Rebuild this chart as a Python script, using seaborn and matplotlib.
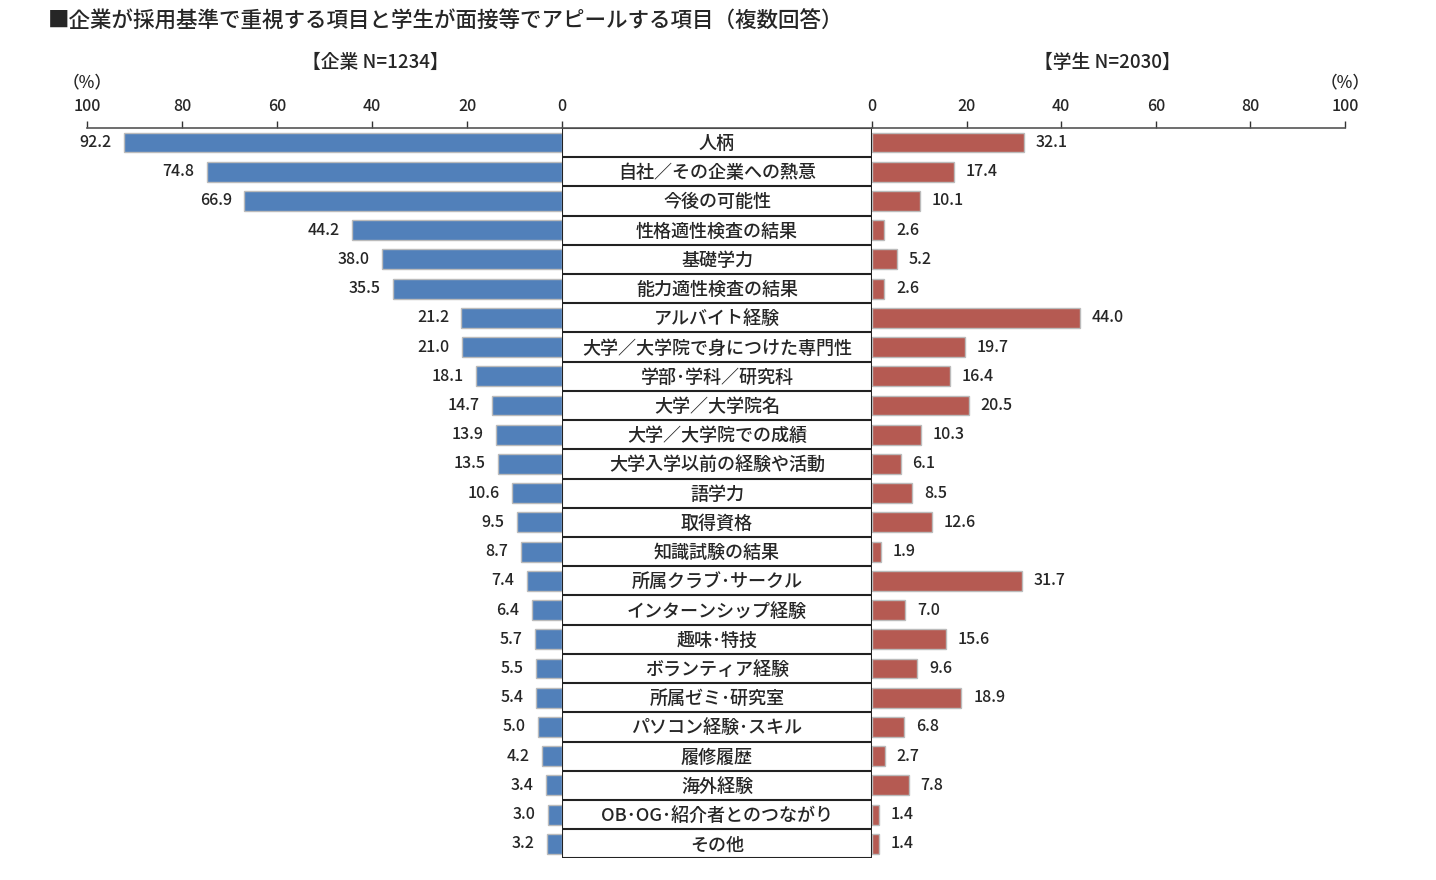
import matplotlib
matplotlib.use("Agg")
import matplotlib.pyplot as plt
import seaborn as sns
import pandas as pd

# %%
# Data
items = ['人柄', '自社／その企業への熱意', '今後の可能性', '性格適性検査の結果', '基礎学力',
         '能力適性検査の結果', 'アルバイト経験', '大学／大学院で身につけた専門性',
         '学部･学科／研究科', '大学／大学院名', '大学／大学院での成績',
         '大学入学以前の経験や活動', '語学力', '取得資格', '知識試験の結果',
         '所属クラブ･サークル', 'インターンシップ経験', '趣味･特技', 'ボランティア経験',
         '所属ゼミ･研究室', 'パソコン経験･スキル', '履修履歴', '海外経験',
         'OB･OG･紹介者とのつながり', 'その他']
company = [92.2, 74.8, 66.9, 44.2, 38.0, 35.5, 21.2, 21.0, 18.1, 14.7, 13.9, 13.5,
           10.6, 9.5, 8.7, 7.4, 6.4, 5.7, 5.5, 5.4, 5.0, 4.2, 3.4, 3.0, 3.2]
student = [32.1, 17.4, 10.1, 2.6, 5.2, 2.6, 44.0, 19.7, 16.4, 20.5, 10.3, 6.1,
           8.5, 12.6, 1.9, 31.7, 7.0, 15.6, 9.6, 18.9, 6.8, 2.7, 7.8, 1.4, 1.4]
ticks = [0, 20, 40, 60, 80, 100]

df = pd.DataFrame({'item': items, 'company': company, 'student': student})

# %%
sns.set_style('white')
plt.rcParams['font.family'] = ['Noto Sans CJK JP', 'DejaVu Sans']
plt.rcParams['font.weight'] = 'medium'

fig = plt.figure(figsize=(14.36, 8.8), dpi=100)
bottom, height = 0.0245, 0.8302
ax_l = fig.add_axes([0.0606, bottom, 0.3308, height])
ax_m = fig.add_axes([0.3914, bottom, 0.2158, height])
ax_r = fig.add_axes([0.6072, bottom, 0.3294, height])

blue = '#5180BA'
red = '#B55A52'

sns.barplot(data=df, x='company', y='item', ax=ax_l, color=blue, width=0.68,
            edgecolor='#BBBBBB', linewidth=1, saturation=1)
sns.barplot(data=df, x='student', y='item', ax=ax_r, color=red, width=0.68,
            edgecolor='#BBBBBB', linewidth=1, saturation=1)

n = len(items)
for ax in (ax_l, ax_r):
    ax.set_ylim(n - 0.5, -0.5)
    ax.set_xticks(ticks)
    ax.set_xticklabels([str(t) for t in ticks], fontsize=11.5)
    ax.xaxis.tick_top()
    ax.tick_params(axis='x', direction='out', length=5, width=1, color='#333333', pad=4)
    ax.set_yticks([])
    ax.set_xlabel('')
    ax.set_ylabel('')
    for s in ['left', 'right', 'bottom']:
        ax.spines[s].set_visible(False)
    ax.spines['top'].set_color('#555555')
    ax.spines['top'].set_linewidth(1.2)

ax_l.set_xlim(100, 0)
ax_r.set_xlim(0, 100)

for i, v in enumerate(company):
    ax_l.text(v + 2.6, i, f'{v:.1f}', ha='right', va='center', fontsize=11.5)
for i, v in enumerate(student):
    ax_r.text(v + 2.5, i, f'{v:.1f}', ha='left', va='center', fontsize=11.5)

# middle label column
ax_m.set_xlim(0, 1)
ax_m.set_ylim(n - 0.5, -0.5)
ax_m.axis('off')
for i in range(n + 1):
    ax_m.axhline(i - 0.5, color='#222222', lw=1.5)
ax_m.axvline(0, color='#222222', lw=1.5)
ax_m.axvline(1, color='#222222', lw=1.5)
ax_m.plot([0, 1], [-0.5, -0.5], color='#555555', lw=1.2, clip_on=False)
for i, lab in enumerate(items):
    ax_m.text(0.5, i + 0.05, lab, ha='center', va='center', fontsize=13)

# headers
fig.text(0.033, 0.975, '■企業が採用基準で重視する項目と学生が面接等でアピールする項目（複数回答）',
         ha='left', va='center', fontsize=15.5)
fig.text(375 / 1436, 1 - 62 / 880, '【企業 N=1234】', ha='center', va='center', fontsize=13.5)
fig.text(1107 / 1436, 1 - 62 / 880, '【学生 N=2030】', ha='center', va='center', fontsize=13.5)
fig.text(87 / 1436, 1 - 82 / 880, '（%）', ha='center', va='center', fontsize=12)
fig.text(1345 / 1436, 1 - 82 / 880, '（%）', ha='center', va='center', fontsize=12)

plt.savefig('out.png', dpi=100)
